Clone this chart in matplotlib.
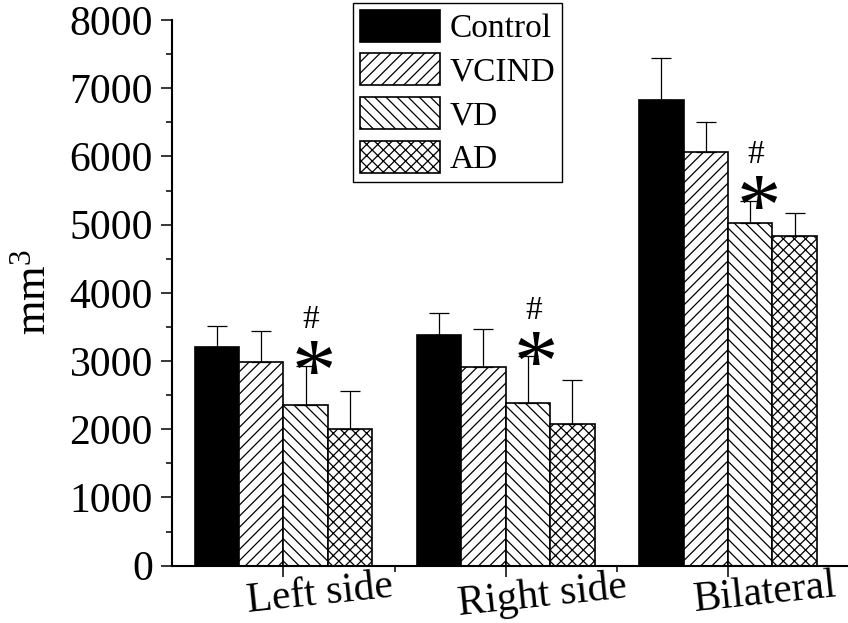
import numpy as np
import matplotlib
matplotlib.use('Agg')
import matplotlib.pyplot as plt
from matplotlib.transforms import ScaledTranslation
from matplotlib.ticker import MultipleLocator, FixedLocator

# --- data ---
groups = ['Left side', 'Right side', 'Bilateral']
series = ['Control', 'VCIND', 'VD', 'AD']
control = [3200, 3380, 6830]
control_err = [320, 330, 620]
vcind = [2980, 2910, 6070]
vcind_err = [460, 560, 430]
vd = [2360, 2390, 5020]
vd_err = [570, 680, 330]
ad = [2000, 2075, 4840]
ad_err = [560, 645, 330]

values = [control, vcind, vd, ad]
errors = [control_err, vcind_err, vd_err, ad_err]
hatches = ['', '///', '\\\\\\', 'xxx']
faces = ['black', 'white', 'white', 'white']

plt.rcParams['font.family'] = ['Liberation Serif', 'DejaVu Serif']
plt.rcParams['mathtext.default'] = 'regular'
plt.rcParams['hatch.linewidth'] = 0.9

fig = plt.figure(figsize=(8.48, 6.23), dpi=100)
ax = fig.add_axes([0.2032, 0.0920, 0.7968, 0.8759])

x = np.arange(1, len(groups) + 1)
width = 0.2
for i, (vals, errs) in enumerate(zip(values, errors)):
    pos = x + (i - 1.5) * width
    ax.bar(pos, vals, width, color=faces[i], edgecolor='black', hatch=hatches[i],
           linewidth=1.2, label=series[i], zorder=2)
    ax.errorbar(pos, vals, yerr=[np.zeros(len(vals)), errs], fmt='none',
                ecolor='black', elinewidth=0.9, capsize=7.5, capthick=0.9, zorder=3)

# significance marks on VD bars
vd_pos = x + 0.5 * width
for px, v, e in zip(vd_pos, vd, vd_err):
    ax.annotate('*', xy=(px, v + e), xytext=(6, -24), textcoords='offset points',
                ha='center', va='baseline', fontsize=64, zorder=4)
    ax.annotate('#', xy=(px, v + e), xytext=(4, 27), textcoords='offset points',
                ha='center', va='baseline', fontsize=24, zorder=4)

ax.set_xlim(0.5, 3.54)
ax.set_ylim(0, 8000)
ax.yaxis.set_major_locator(MultipleLocator(1000))
ax.yaxis.set_minor_locator(MultipleLocator(500))
ax.set_xticks(x)
ax.set_xticklabels(groups, rotation=6, fontsize=30)
ax.xaxis.set_minor_locator(FixedLocator([1.5, 2.5]))
ax.tick_params(axis='y', labelsize=30, pad=6)
ax.tick_params(axis='both', which='major', direction='out', length=8, width=1.1)
ax.tick_params(axis='both', which='minor', direction='out', length=4, width=1.1)
ax.tick_params(axis='x', which='major', pad=-7)

offset = ScaledTranslation(0.37, 0, fig.dpi_scale_trans)
for lbl in ax.get_xticklabels():
    lbl.set_transform(lbl.get_transform() + offset)

for side in ['top', 'right']:
    ax.spines[side].set_visible(False)
for side in ['left', 'bottom']:
    ax.spines[side].set_linewidth(1.5)

fig.text(0.041, 0.531, 'mm$^3$', rotation=90, ha='center', va='center', fontsize=32)

leg = ax.legend(loc='upper left', bbox_to_anchor=(353 / 848, 1 - 3 / 623),
                bbox_transform=fig.transFigure, fontsize=24, frameon=True,
                fancybox=False, edgecolor='black', framealpha=1,
                handlelength=2.4, handleheight=1.1, handletextpad=0.3,
                labelspacing=0.28, borderpad=0.2, borderaxespad=0)
leg.get_frame().set_linewidth(1.0)
leg.set_zorder(5)

fig.savefig('out.png', dpi=100)
